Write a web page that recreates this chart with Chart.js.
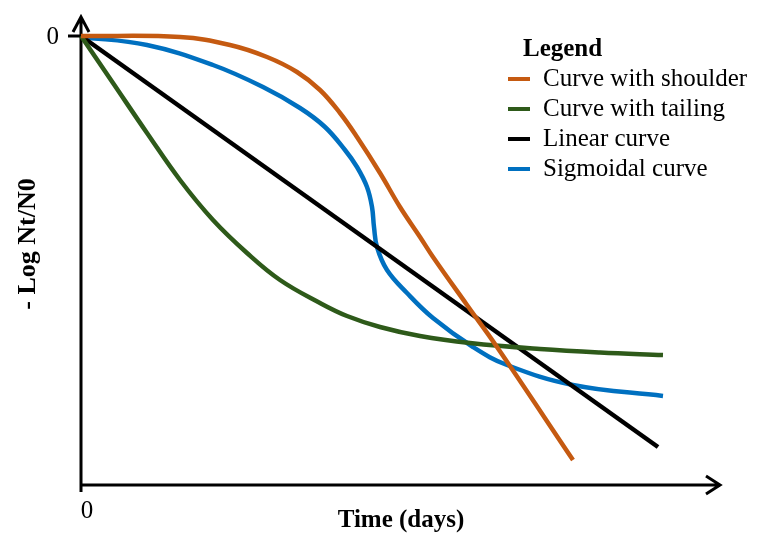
<!DOCTYPE html>
<html>
<head>
<meta charset="utf-8">
<script src="https://cdn.jsdelivr.net/npm/chart.js@4.4.1/dist/chart.umd.min.js"></script>
<style>
  html, body { margin: 0; background: #fff; }
  #wrap { width: 764px; height: 550px; }
</style>
</head>
<body>
<div id="wrap"><canvas id="curves"></canvas></div>
<script>
// values (x: time, y: -log Nt/N0, arbitrary units)
var seriesNames = ['Curve with shoulder', 'Curve with tailing', 'Linear curve', 'Sigmoidal curve'];

var shoulderX = [0, 1.98, 2.98, 3.72, 4.32, 4.78, 5.18, 5.52, 5.98, 6.38, 6.78, 7.04, 7.72, 8.32, 9.84];
var shoulderY = [0, -0.02, -0.18, -0.42, -0.72, -1.08, -1.54, -2.02, -2.74, -3.42, -4.02, -4.42, -5.38, -6.22, -8.48];

var tailingX = [0, 0.64, 1.32, 1.98, 2.64, 3.32, 3.98, 4.78, 5.32, 5.98, 6.78, 7.78, 9.18, 10.38, 11.64];
var tailingY = [0, -0.94, -1.94, -2.88, -3.68, -4.34, -4.88, -5.34, -5.6, -5.82, -6.0, -6.14, -6.26, -6.33, -6.38];

var linearX = [0, 11.54];
var linearY = [0, -8.22];

var sigmoidX = [0, 1.32, 2.64, 3.64, 4.38, 4.88, 5.28, 5.52, 5.72, 5.82, 5.86, 5.92, 6.12, 6.52, 7.04, 7.84, 8.52, 9.84, 11.64];
var sigmoidY = [-0.02, -0.18, -0.58, -1.02, -1.44, -1.82, -2.28, -2.62, -3.02, -3.42, -3.82, -4.22, -4.68, -5.14, -5.64, -6.22, -6.58, -6.98, -7.2];

var xTickLabels = ['0'];
var yTickLabels = ['0'];

var serif = "'Liberation Serif', 'Times New Roman', serif";

function pts(xs, ys) {
  return xs.map(function (x, i) { return { x: x, y: ys[i] }; });
}

function line(name, xs, ys, color, smooth) {
  return {
    label: name,
    data: pts(xs, ys),
    borderColor: color,
    backgroundColor: color,
    borderWidth: 4.5,
    pointRadius: 0,
    fill: false,
    clip: false,
    tension: smooth ? 0.4 : 0
  };
}

// axes with arrows, ticks, titles and the legend box
var decorations = {
  id: 'decorations',
  beforeDatasetsDraw: function (chart) {
    var c = chart.ctx, xs = chart.scales.x, ys = chart.scales.y;
    var ox = xs.getPixelForValue(0);
    var oy = chart.chartArea.bottom - 1;
    var top = chart.chartArea.top + 1;
    var right = chart.chartArea.right - 1;
    c.save();
    c.strokeStyle = '#000';
    c.lineWidth = 3;
    c.lineCap = 'butt';
    c.beginPath();
    c.moveTo(ox, oy + 7); c.lineTo(ox, top);
    c.moveTo(ox - 8, top + 15); c.lineTo(ox, top); c.lineTo(ox + 8, top + 15);
    c.moveTo(ox, oy); c.lineTo(right, oy);
    c.moveTo(right - 14, oy - 9); c.lineTo(right, oy); c.lineTo(right - 14, oy + 9);
    yTickLabels.forEach(function (t) {
      var py = ys.getPixelForValue(Number(t));
      c.moveTo(ox - 13, py); c.lineTo(ox, py);
    });
    c.stroke();
    c.restore();
  },
  afterDraw: function (chart) {
    var c = chart.ctx, xs = chart.scales.x, ys = chart.scales.y;
    var ox = xs.getPixelForValue(0);
    var oy = chart.chartArea.bottom - 1;
    c.save();
    c.fillStyle = '#000';
    c.textBaseline = 'middle';
    c.font = '25px ' + serif;
    c.textAlign = 'right';
    yTickLabels.forEach(function (t) {
      c.fillText(t, ox - 22, ys.getPixelForValue(Number(t)) + 1);
    });
    c.textAlign = 'center';
    xTickLabels.forEach(function (t) {
      c.fillText(t, xs.getPixelForValue(Number(t)) + 6, oy + 26);
    });

    c.font = 'bold 25px ' + serif;
    c.fillText('Time (days)', 401, oy + 36);
    c.save();
    c.translate(28, 244);
    c.rotate(-Math.PI / 2);
    c.font = 'bold 26px ' + serif;
    c.fillText('- Log Nt/N0', 0, 0);
    c.restore();

    // legend
    c.textAlign = 'left';
    c.font = 'bold 25px ' + serif;
    c.fillText('Legend', 523, 50);
    c.font = '25px ' + serif;
    chart.data.datasets.forEach(function (ds, i) {
      var y = 79 + i * 30;
      c.strokeStyle = ds.borderColor;
      c.lineWidth = 4;
      c.beginPath();
      c.moveTo(508, y); c.lineTo(530, y);
      c.stroke();
      c.fillText(ds.label, 543, y);
    });
    c.restore();
  }
};

new Chart(document.getElementById('curves'), {
  type: 'scatter',
  data: {
    datasets: [
      line(seriesNames[0], shoulderX, shoulderY, '#C55A11', true),
      line(seriesNames[1], tailingX, tailingY, '#2E5A1A', true),
      line(seriesNames[2], linearX, linearY, '#000000', false),
      line(seriesNames[3], sigmoidX, sigmoidY, '#0070C0', true)
    ]
  },
  options: {
    responsive: true,
    maintainAspectRatio: false,
    animation: false,
    showLine: true,
    layout: { padding: { left: 81, right: 43, top: 16, bottom: 64 } },
    scales: {
      x: { type: 'linear', min: 0, max: 12.8, display: false },
      y: { type: 'linear', min: -9, max: 0.4, display: false }
    },
    plugins: {
      legend: { display: false },
      tooltip: { enabled: false }
    }
  },
  plugins: [decorations]
});
</script>
</body>
</html>
